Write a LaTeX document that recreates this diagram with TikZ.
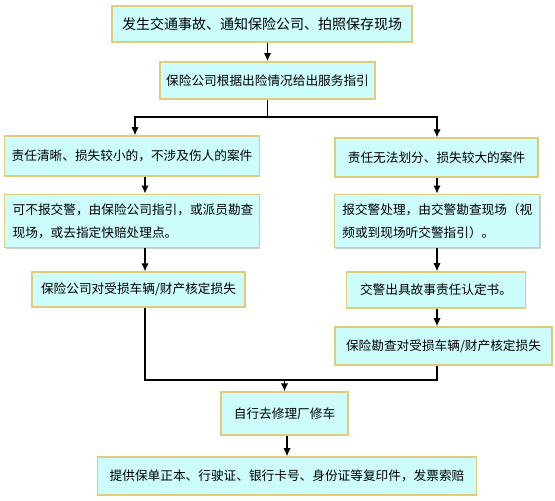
\documentclass[tikz,border=0pt]{standalone}
\usepackage{fontspec}
\setmainfont{Noto Sans CJK SC}
\usetikzlibrary{shadows,arrows.meta}

\definecolor{boxfill}{RGB}{204,252,252}
\definecolor{boxline}{RGB}{222,204,120}

\tikzstyle{box} = [draw=boxline, line width=1.2pt, fill=boxfill, inner sep=0pt,
	font=\fontsize{9.5}{17}\selectfont,
	drop shadow={shadow xshift=0.8pt, shadow yshift=-0.8pt, fill=black!30, opacity=0.6}]
\tikzstyle{link} = [line width=0.9pt]

\begin{document}
\begin{tikzpicture}[x=0.75pt, y=-0.75pt, >={Latex[length=6pt,width=5.5pt]}]
	\useasboundingbox (0,0) rectangle (555,500);

	\node[box, minimum width=225pt, minimum height=27pt, font=\fontsize{10.5}{14}\selectfont] (start) at (262,24) {发生交通事故、通知保险公司、拍照保存现场};
	\node[box, minimum width=161pt, minimum height=28pt] (guide) at (267.5,80.5) {保险公司根据出险情况给出服务指引};

	\node[box, minimum width=191pt, minimum height=30pt] (l1) at (132,156) {责任清晰、损失较小的，不涉及伤人的案件};
	\node[box, minimum height=40pt, inner xsep=6pt, text width=179pt, align=left] (l2) at (132,221) {可不报交警，由保险公司指引，或派员勘查\\现场，或去指定快赔处理点。};
	\node[box, minimum width=160pt, minimum height=26pt] (l3) at (138.5,289.5) {保险公司对受损车辆/财产核定损失};

	\node[box, minimum width=152pt, minimum height=29pt] (r1) at (436.5,157.5) {责任无法划分、损失较大的案件};
	\node[box, minimum height=40pt, inner xsep=6pt, text width=142pt, align=left] (r2) at (437,221) {报交警处理，由交警勘查现场（视\\频或到现场听交警指引）。};
	\node[box, minimum width=134pt, minimum height=27pt] (r3) at (436,290) {交警出具故事责任认定书。};
	\node[box, minimum width=163pt, minimum height=28.5pt] (r4) at (443.5,346) {保险勘查对受损车辆/财产核定损失};

	\node[box, minimum width=95pt, minimum height=32pt] (repair) at (284.5,413.5) {自行去修理厂修车};
	\node[box, minimum width=284pt, minimum height=28.5pt] (claim) at (287,476) {提供保单正本、行驶证、银行卡号、身份证等复印件，发票索赔};

	\coordinate (split) at (267.5,117);
	\coordinate (la) at (135,117);
	\coordinate (lx) at (145,380);
	\coordinate (rx) at (437,380);

	% top part
	\draw[link,->] (start.south -| guide) -- (guide);
	\draw[link] (guide) -- (split);
	\draw[link,->] (split) -- (la) -- (l1.north -| la);
	\draw[link,->] (split) -| (r1.north -| rx);

	% left branch
	\draw[link,->] (l1.south -| lx) -- (l2.north -| lx);
	\draw[link,->] (l2.south -| lx) -- (l3.north -| lx);

	% right branch
	\draw[link,->] (r1.south -| rx) -- (r2.north -| rx);
	\draw[link,->] (r2.south -| rx) -- (r3.north -| rx);
	\draw[link,->] (r3.south -| rx) -- (r4.north -| rx);

	% join
	\draw[link] (l3.south -| lx) -- (lx) -- (rx) -- (r4.south -| rx);
	\draw[link,->] (repair.north |- lx) -- (repair.north);
	\draw[link,->] (repair.south -| claim) -- (claim);
\end{tikzpicture}
\end{document}
